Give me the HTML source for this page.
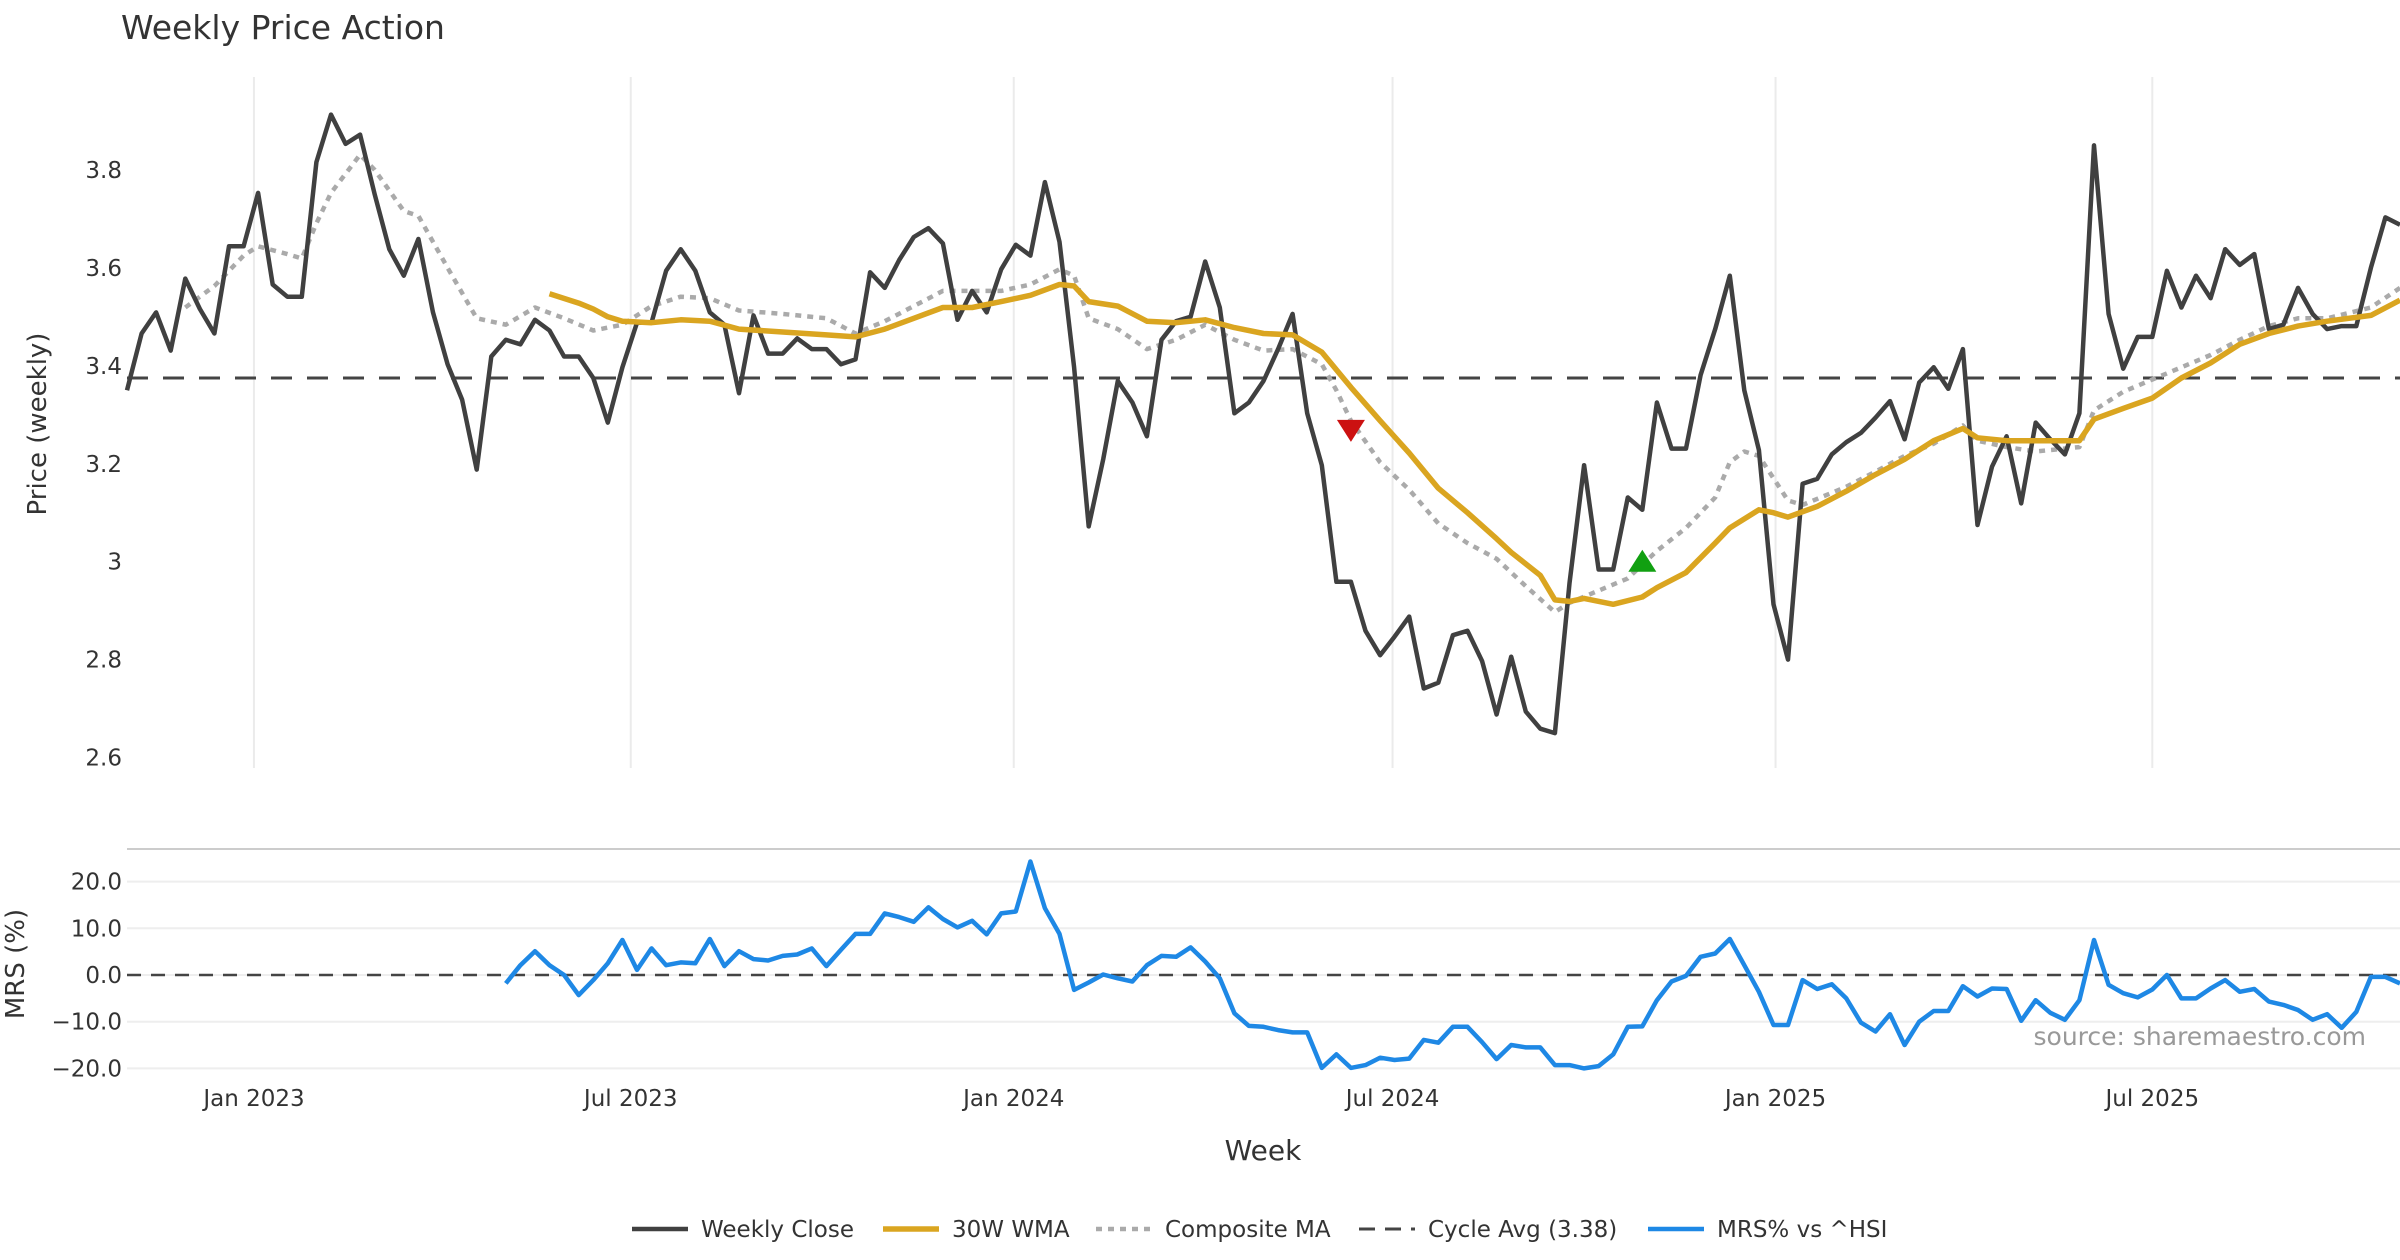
<!DOCTYPE html>
<html><head><meta charset="utf-8"><title>Weekly Price Action</title>
<style>
html,body{margin:0;padding:0;background:#fff;}
svg{display:block;font-family:"DejaVu Sans","Liberation Sans",sans-serif;}
</style></head>
<body>
<svg id="chart" width="2400" height="1260" viewBox="0 0 2400 1260" xmlns="http://www.w3.org/2000/svg">
<text x="121" y="39" font-size="33" fill="#333">Weekly Price Action</text>
<g id="grid"></g>
<g id="main"></g>
<g id="mrs"></g>
<g id="axes"></g>
<text transform="translate(46,424) rotate(-90)" text-anchor="middle" font-size="26" fill="#333">Price (weekly)</text>
<text transform="translate(24,964) rotate(-90)" text-anchor="middle" font-size="26" fill="#333">MRS (%)</text>
<text x="1263" y="1160" text-anchor="middle" font-size="28" fill="#333">Week</text>
<text x="2366" y="1045" text-anchor="end" font-size="25" fill="#999">source: sharemaestro.com</text>
<g id="legend"></g>
</svg>
<script>
// ---- data ----
const startDate = "2022-11-01";
const closeValues = [3.35,3.466,3.509,3.431,3.578,3.516,3.466,3.644,3.644,3.753,
3.566,3.541,3.541,3.816,3.913,3.853,3.872,3.75,3.638,3.584,
3.659,3.509,3.403,3.331,3.188,3.419,3.453,3.444,3.494,3.472,
3.419,3.419,3.375,3.284,3.397,3.488,3.488,3.594,3.638,3.594,
3.509,3.484,3.344,3.503,3.425,3.425,3.456,3.434,3.434,3.403,
3.413,3.591,3.559,3.616,3.663,3.681,3.65,3.494,3.553,3.509,
3.597,3.647,3.625,3.775,3.653,3.397,3.072,3.209,3.369,3.325,
3.256,3.453,3.491,3.5,3.613,3.519,3.303,3.325,3.369,3.434,
3.506,3.303,3.197,2.959,2.959,2.859,2.809,2.847,2.888,2.741,
2.753,2.85,2.859,2.797,2.688,2.806,2.694,2.659,2.65,2.956,
3.197,2.984,2.984,3.131,3.106,3.325,3.231,3.231,3.381,3.475,
3.584,3.35,3.228,2.913,2.8,3.159,3.169,3.219,3.244,3.263,
3.294,3.328,3.25,3.366,3.397,3.353,3.434,3.075,3.194,3.256,
3.119,3.284,3.25,3.219,3.303,3.85,3.506,3.394,3.459,3.459,
3.594,3.519,3.584,3.538,3.638,3.606,3.628,3.475,3.484,3.559,
3.506,3.475,3.481,3.481,3.6,3.703,3.688];
const wmaWeeks = [29,31,32,33,34,36,38,40,42,45,48,50,52,54,56,58,60,62,64,65,66,68,70,72,74,76,78,80,82,84,86,88,90,92,94,95,97,98,99,100,102,104,105,107,109,110,112,113,114,116,118,120,122,124,126,127,129,131,134,135,137,139,141,143,145,147,149,151,154,156];
const wmaValues = [3.547,3.528,3.516,3.5,3.491,3.488,3.494,3.491,3.475,3.469,3.463,3.459,3.475,3.497,3.519,3.519,3.531,3.544,3.566,3.563,3.531,3.522,3.491,3.488,3.494,3.478,3.466,3.463,3.428,3.356,3.288,3.222,3.15,3.1,3.047,3.019,2.972,2.922,2.919,2.925,2.913,2.928,2.947,2.978,3.038,3.069,3.106,3.1,3.091,3.113,3.144,3.178,3.209,3.247,3.272,3.253,3.247,3.247,3.247,3.291,3.313,3.334,3.375,3.406,3.444,3.466,3.481,3.491,3.503,3.534];
const compWeeks = [4,6,8,9,11,12,13,14,16,17,19,20,22,24,26,28,30,32,34,36,38,40,42,45,48,50,52,54,56,58,60,62,64,65,66,68,70,72,74,76,78,80,82,83,84,86,88,90,92,94,96,98,99,101,103,105,107,109,110,111,112,114,115,118,120,122,124,126,127,129,131,134,135,137,139,141,143,145,147,149,151,154,156];
const compValues = [3.519,3.563,3.625,3.644,3.628,3.619,3.691,3.753,3.831,3.8,3.716,3.706,3.6,3.497,3.484,3.519,3.497,3.472,3.484,3.522,3.541,3.538,3.513,3.506,3.497,3.466,3.491,3.522,3.553,3.553,3.553,3.566,3.597,3.584,3.497,3.475,3.434,3.453,3.484,3.453,3.431,3.434,3.403,3.35,3.288,3.203,3.147,3.078,3.038,3.006,2.95,2.897,2.916,2.941,2.966,3.022,3.069,3.131,3.203,3.225,3.216,3.125,3.116,3.153,3.184,3.216,3.241,3.278,3.247,3.234,3.225,3.234,3.309,3.347,3.372,3.397,3.422,3.453,3.481,3.497,3.497,3.519,3.559];
const cycleAvg = 3.375;
const mrsStart = 26;
const mrsValues = [-1.8,2.1,5.1,2.1,0,-4.3,-1.1,2.5,7.5,1.1,5.7,2.1,2.7,2.5,7.7,1.9,5.1,3.4,3.1,4.1,4.4,5.7,1.9,5.4,8.8,8.8,13.2,12.4,11.4,14.5,12,10.2,11.6,8.7,13.2,13.6,24.3,14.3,8.8,-3.2,-1.6,0.1,-0.7,-1.4,2.1,4.1,3.9,5.9,2.9,-0.7,-8.2,-10.9,-11.1,-11.8,-12.3,-12.3,-19.9,-17,-19.9,-19.3,-17.7,-18.2,-17.9,-13.9,-14.5,
-11.1,-11.1,-14.4,-18,-15,-15.5,-15.5,-19.3,-19.3,-20,-19.5,-17,-11.1,-11,-5.4,-1.4,-0.2,3.9,4.6,7.7,2.1,-3.6,-10.7,-10.7,-1.1,-3,-2,-5,-10.2,-12.1,-8.4,-15,-10,-7.7,-7.7,-2.4,-4.6,-2.9,-3,-9.8,-5.4,-8.1,-9.6,-5.4,7.5,-2.1,-3.9,-4.8,-3.1,0,-5,-5,-2.9,-1.1,-3.6,-3,-5.7,-6.4,-7.5,-9.6,-8.4,-11.3,-7.9,-0.4,-0.4,-1.8];
const sellSignal = {week: 84, value: 3.265};
const buySignal = {week: 104, value: 3.0};
const priceTicks = [3.8,3.6,3.4,3.2,3,2.8,2.6];
const priceTickLabels = ["3.8","3.6","3.4","3.2","3","2.8","2.6"];
const mrsTicks = [20,10,0,-10,-20];
const mrsTickLabels = ["20.0","10.0","0.0","\u221210.0","\u221220.0"];
const dateTicks = ["2023-01-01","2023-07-01","2024-01-01","2024-07-01","2025-01-01","2025-07-01"];
const dateTickLabels = ["Jan 2023","Jul 2023","Jan 2024","Jul 2024","Jan 2025","Jul 2025"];

// ---- scales ----
const NS="http://www.w3.org/2000/svg";
const X0=127, X1=2400;
function xw(i){return X0+i*(X1-X0)/156;}
function xDate(s){const d=(new Date(s)-new Date(startDate))/86400000;return xw(d/7);}
function yP(v){return 169.9+(3.8-v)*489.75;}
function yM(v){return 975-v*4.67;}
function el(tag,attrs,parent){const e=document.createElementNS(NS,tag);for(const k in attrs)e.setAttribute(k,attrs[k]);parent.appendChild(e);return e;}
const grid=document.getElementById('grid'),main=document.getElementById('main'),mrs=document.getElementById('mrs'),axes=document.getElementById('axes'),legend=document.getElementById('legend');

dateTicks.forEach((d,k)=>{
  const x=xDate(d);
  const g=el('line',{x1:x,x2:x,y1:77,y2:768,stroke:'#ebebeb','stroke-width':2},grid);
  
  
  const t=el('text',{x:x,y:1106,'text-anchor':'middle','font-size':23,fill:'#333'},axes);
  t.textContent=dateTickLabels[k];
  
  
});
mrsTicks.forEach((v,k)=>{
  const y=yM(v);
  const g=el('line',{x1:X0,x2:X1,y1:y,y2:y,stroke:'#eeeeee','stroke-width':2},grid);
  
  
  const t=el('text',{x:122,y:y+8,'text-anchor':'end','font-size':23,fill:'#333'},axes);
  t.textContent=mrsTickLabels[k];
  
  
});
priceTicks.forEach((v,k)=>{
  const t=el('text',{x:122,y:yP(v)+8,'text-anchor':'end','font-size':23,fill:'#333'},axes);
  t.textContent=priceTickLabels[k];
  
  
});
const sep=el('line',{x1:X0,x2:X1,y1:849,y2:849,stroke:'#cccccc','stroke-width':2},grid);



const cyc=el('line',{x1:X0,x2:X1,y1:yP(cycleAvg),y2:yP(cycleAvg),stroke:'#444','stroke-width':3,'stroke-dasharray':'21 15'},main);


function pts(ws,vs,yf){return ws.map((w,i)=>xw(w).toFixed(1)+','+yf(vs[i]).toFixed(1)).join(' ');}
const comp=el('polyline',{points:pts(compWeeks,compValues,yP),fill:'none',stroke:'#aaaaaa','stroke-width':4.5,'stroke-dasharray':'6 6','stroke-linejoin':'round'},main);


const cw=closeValues.map((v,i)=>i);
const close=el('polyline',{points:pts(cw,closeValues,yP),fill:'none',stroke:'#404040','stroke-width':4.5,'stroke-linejoin':'round'},main);


const wma=el('polyline',{points:pts(wmaWeeks,wmaValues,yP),fill:'none',stroke:'#DAA520','stroke-width':5.5,'stroke-linejoin':'round'},main);


{const x=xw(sellSignal.week),y=yP(sellSignal.value);
const s=el('polygon',{points:`${x-14},${y-12} ${x+14},${y-12} ${x},${y+10}`,fill:'#cc1111'},main);

}
{const x=xw(buySignal.week),y=yP(buySignal.value);
const b=el('polygon',{points:`${x-14},${y+10} ${x+14},${y+10} ${x},${y-12}`,fill:'#11a011'},main);

}

const z=el('line',{x1:X0,x2:X1,y1:yM(0),y2:yM(0),stroke:'#444','stroke-width':2.5,'stroke-dasharray':'14 10'},mrs);


const mw=mrsValues.map((v,i)=>mrsStart+i);
const ml=el('polyline',{points:pts(mw,mrsValues,yM),fill:'none',stroke:'#1E88E5','stroke-width':4.5,'stroke-linejoin':'round'},mrs);



const legendLabels=["Weekly Close","30W WMA","Composite MA","Cycle Avg (3.38)","MRS% vs ^HSI"];
const legendX=[632,883,1096,1359,1648];
const legendStyles=[{stroke:'#404040',w:4.5,d:''},{stroke:'#DAA520',w:5.5,d:''},{stroke:'#aaaaaa',w:4.5,d:'6 6'},{stroke:'#444',w:3,d:'16 10'},{stroke:'#1E88E5',w:4.5,d:''}];
legendLabels.forEach((lab,k)=>{
  const g=el('g',{},legend);
  
  
  const st=legendStyles[k];
  const a={x1:legendX[k],x2:legendX[k]+56,y1:1229,y2:1229,stroke:st.stroke,'stroke-width':st.w};
  if(st.d)a['stroke-dasharray']=st.d;
  el('line',a,g);
  const t=el('text',{x:legendX[k]+69,y:1237,'font-size':23,fill:'#333'},g);
  t.textContent=lab;
});
</script>
</body></html>
